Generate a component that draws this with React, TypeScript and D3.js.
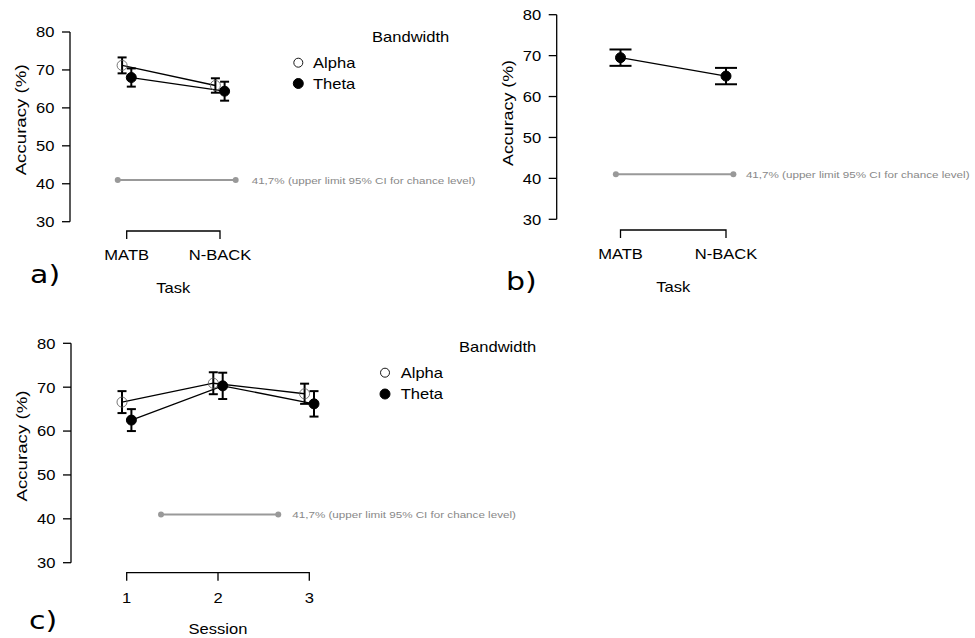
import React from "react";
import * as d3 from "d3";

const tasks = ["MATB", "N-BACK"];
const sessions = ["1", "2", "3"];
const bandwidths = ["Alpha", "Theta"];

const taskAlphaMean = [71.2, 65.9];
const taskAlphaCI = [2.1, 1.9];
const taskThetaMean = [68.0, 64.4];
const taskThetaCI = [2.4, 2.5];

const taskOverallMean = [69.5, 65.0];
const taskOverallCI = [2.0, 2.0];

const sessionAlphaMean = [66.6, 70.9, 68.5];
const sessionAlphaCI = [2.5, 2.5, 2.3];
const sessionThetaMean = [62.5, 70.3, 66.2];
const sessionThetaCI = [2.5, 3.0, 2.9];

const yTicks = [30, 40, 50, 60, 70, 80];
const chanceValue = 41.0;
const chanceLabel = "41,7% (upper limit 95% CI for chance level)";

type Series = { name: string; mean: number[]; ci: number[]; filled: boolean };

type PanelProps = {
  categories: string[];
  series: Series[];
  axisX: number;
  yTop: number;
  yBottom: number;
  catStart: number;
  catEnd: number;
  bracketY: number;
  labelOffset: number;
  dodge: number;
  capHalf: number;
  chanceFrom: number;
  chanceTo: number;
  chanceGap: number;
  xTitle: string;
  xTitleY: number;
  yTitleShift: number;
  yTitleLen: number;
  panelLabel: string;
  panelLabelX: number;
  panelLabelY: number;
  legend?: { titleX: number; titleY: number; markX: number; textX: number; firstY: number; step: number };
};

const FONT = "'Liberation Sans', Arial, Helvetica, sans-serif";
const SX = 1.2;
const FS = 13.8;

function ST(props: {
  x: number;
  y: number;
  size: number;
  anchor?: "start" | "middle" | "end";
  fill?: string;
  family?: string;
  dy?: string;
  children: React.ReactNode;
}) {
  return (
    <g transform={`translate(${props.x},${props.y}) scale(${SX},1)`}>
      <text
        x={0}
        y={0}
        dy={props.dy ?? "0.35em"}
        textAnchor={props.anchor ?? "start"}
        fontSize={props.size}
        fill={props.fill ?? "#000"}
        fontFamily={props.family ?? FONT}
      >
        {props.children}
      </text>
    </g>
  );
}

function Panel(p: PanelProps) {
  const y = d3.scaleLinear().domain([30, 80]).range([p.yBottom, p.yTop]);
  const n = p.categories.length;
  const xc = d3.scaleLinear().domain([0, n - 1]).range([p.catStart, p.catEnd]);
  const ns = p.series.length;
  const off = (si: number) => (ns === 1 ? 0 : (si - (ns - 1) / 2) * 2 * p.dodge);
  const line = d3
    .line<number>()
    .x((_, i) => xc(i))
    .y((v) => y(v));
  const yMid = (y(80) + y(30)) / 2 + p.yTitleShift;
  return (
    <g>
      {/* y axis */}
      <line x1={p.axisX} x2={p.axisX} y1={y(80)} y2={y(30)} stroke="#000" strokeWidth={1.3} />
      {yTicks.map((t) => (
        <g key={t}>
          <line x1={p.axisX - 8} x2={p.axisX} y1={y(t)} y2={y(t)} stroke="#000" strokeWidth={1.3} />
          <ST x={p.axisX - 15.5} y={y(t) + 0.5} size={FS} anchor="end">
            {t}
          </ST>
        </g>
      ))}
      <text
        transform={`translate(${p.axisX - 44},${yMid}) rotate(-90)`}
        textAnchor="middle"
        fontSize={14.5}
        fontFamily={FONT}
        textLength={p.yTitleLen}
        lengthAdjust="spacingAndGlyphs"
      >
        Accuracy (%)
      </text>
      {/* x bracket */}
      <path
        d={`M${xc(0)},${p.bracketY + 8}V${p.bracketY}H${xc(n - 1)}V${p.bracketY + 8}`}
        fill="none"
        stroke="#000"
        strokeWidth={1.3}
      />
      {p.categories.map((c, i) => (
        <g key={c}>
          {i > 0 && i < n - 1 && (
            <line x1={xc(i)} x2={xc(i)} y1={p.bracketY} y2={p.bracketY + 8} stroke="#000" strokeWidth={1.3} />
          )}
          <ST x={xc(i)} y={p.bracketY + p.labelOffset} size={FS} anchor="middle">
            {c}
          </ST>
        </g>
      ))}
      <ST x={(xc(0) + xc(n - 1)) / 2} y={p.xTitleY} size={FS} anchor="middle">
        {p.xTitle}
      </ST>
      <ST x={p.panelLabelX} y={p.panelLabelY} size={25} dy="0" family="'DejaVu Sans', sans-serif">
        {p.panelLabel}
      </ST>
      {/* chance line */}
      <line
        x1={xc(p.chanceFrom)}
        x2={xc(p.chanceTo)}
        y1={y(chanceValue)}
        y2={y(chanceValue)}
        stroke="#999"
        strokeWidth={2}
      />
      <circle cx={xc(p.chanceFrom)} cy={y(chanceValue)} r={3} fill="#999" />
      <circle cx={xc(p.chanceTo)} cy={y(chanceValue)} r={3} fill="#999" />
      <ST x={xc(p.chanceTo) + p.chanceGap} y={y(chanceValue) + 0.5} size={9.7} fill="#888">
        {chanceLabel}
      </ST>
      {/* series */}
      {p.series.map((s, si) => (
        <g key={s.name} transform={`translate(${off(si)},0)`}>
          <path d={line(s.mean) || ""} fill="none" stroke="#000" strokeWidth={1.3} />
        </g>
      ))}
      {p.series.map((s, si) => (
        <g key={s.name + "e"} transform={`translate(${off(si)},0)`}>
          {s.mean.map((m, i) => (
            <g key={i}>
              <line x1={xc(i)} x2={xc(i)} y1={y(m - s.ci[i])} y2={y(m + s.ci[i])} stroke="#000" strokeWidth={2} />
              <line x1={xc(i) - p.capHalf} x2={xc(i) + p.capHalf} y1={y(m - s.ci[i])} y2={y(m - s.ci[i])} stroke="#000" strokeWidth={2} />
              <line x1={xc(i) - p.capHalf} x2={xc(i) + p.capHalf} y1={y(m + s.ci[i])} y2={y(m + s.ci[i])} stroke="#000" strokeWidth={2} />
              <circle
                cx={xc(i)}
                cy={y(m)}
                r={5}
                fill={s.filled ? "#000" : "none"}
                stroke={s.filled ? "#000" : "#555"}
                strokeWidth={s.filled ? 1 : 0.8}
              />
            </g>
          ))}
        </g>
      ))}
      {p.legend && (
        <g>
          <ST x={p.legend.titleX} y={p.legend.titleY} size={FS}>
            Bandwidth
          </ST>
          {p.series.map((s, si) => (
            <g key={s.name}>
              <circle
                cx={p.legend!.markX}
                cy={p.legend!.firstY + si * p.legend!.step}
                r={s.filled ? 5 : 4.5}
                fill={s.filled ? "#000" : "#fff"}
                stroke="#000"
                strokeWidth={s.filled ? 1 : 0.9}
              />
              <ST x={p.legend!.textX} y={p.legend!.firstY + si * p.legend!.step + 0.5} size={FS}>
                {s.name}
              </ST>
            </g>
          ))}
        </g>
      )}
    </g>
  );
}

export default function App() {
  const taskSeries: Series[] = [
    { name: bandwidths[0], mean: taskAlphaMean, ci: taskAlphaCI, filled: false },
    { name: bandwidths[1], mean: taskThetaMean, ci: taskThetaCI, filled: true },
  ];
  const overallSeries: Series[] = [{ name: "All", mean: taskOverallMean, ci: taskOverallCI, filled: true }];
  const sessionSeries: Series[] = [
    { name: bandwidths[0], mean: sessionAlphaMean, ci: sessionAlphaCI, filled: false },
    { name: bandwidths[1], mean: sessionThetaMean, ci: sessionThetaCI, filled: true },
  ];
  return (
    <svg width={975} height={638} style={{ position: "absolute", left: 0, top: 0, background: "#fff" }}>
      <rect width={975} height={638} fill="#fff" />
      <Panel
        categories={tasks}
        series={taskSeries}
        axisX={70}
        yTop={32}
        yBottom={221.7}
        catStart={126.7}
        catEnd={220}
        bracketY={231}
        labelOffset={24.3}
        dodge={4.6}
        capHalf={4.5}
        chanceFrom={-0.096}
        chanceTo={1.168}
        chanceGap={16}
        xTitle="Task"
        xTitleY={288.5}
        yTitleShift={-7}
        yTitleLen={111}
        panelLabel="a)"
        panelLabelX={30}
        panelLabelY={283}
        legend={{ titleX: 372, titleY: 37.5, markX: 298.3, textX: 313, firstY: 62.7, step: 20.8 }}
      />
      <Panel
        categories={tasks}
        series={overallSeries}
        axisX={556.7}
        yTop={14.7}
        yBottom={219.3}
        catStart={620.5}
        catEnd={726}
        bracketY={230}
        labelOffset={24.2}
        dodge={0}
        capHalf={11}
        chanceFrom={-0.044}
        chanceTo={1.07}
        chanceGap={12.5}
        xTitle="Task"
        xTitleY={287.5}
        yTitleShift={-4}
        yTitleLen={106}
        panelLabel="b)"
        panelLabelX={506}
        panelLabelY={289.5}
      />
      <Panel
        categories={sessions}
        series={sessionSeries}
        axisX={71}
        yTop={343.3}
        yBottom={562.7}
        catStart={126.7}
        catEnd={309.3}
        bracketY={572.7}
        labelOffset={25.5}
        dodge={4.7}
        capHalf={4.5}
        chanceFrom={0.376}
        chanceTo={1.66}
        chanceGap={14}
        xTitle="Session"
        xTitleY={629.5}
        yTitleShift={-7}
        yTitleLen={111}
        panelLabel="c)"
        panelLabelX={29}
        panelLabelY={629}
        legend={{ titleX: 459, titleY: 347, markX: 385, textX: 400.7, firstY: 372.7, step: 21.3 }}
      />
    </svg>
  );
}
